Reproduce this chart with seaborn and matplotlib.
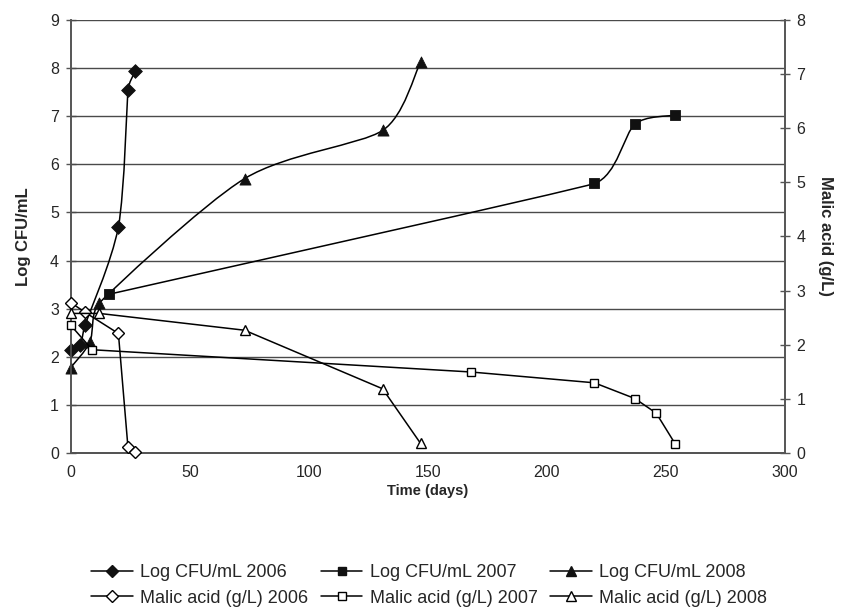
import numpy as np
import matplotlib
matplotlib.use("Agg")
import matplotlib.pyplot as plt
import seaborn as sns
from matplotlib.path import Path
from matplotlib.patches import PathPatch
from matplotlib.lines import Line2D

# values
days_cfu_2006 = [0, 4, 6, 20, 24, 27]
cfu_2006 = [2.15, 2.25, 2.67, 4.70, 7.55, 7.93]
days_cfu_2007 = [16, 220, 237, 254]
cfu_2007 = [3.30, 5.60, 6.83, 7.02]
days_cfu_2008 = [0, 8, 12, 73, 131, 147]
cfu_2008 = [1.78, 2.31, 3.12, 5.70, 6.70, 8.12]

days_mal_2006 = [0, 6, 20, 24, 27]
mal_2006 = [2.78, 2.60, 2.21, 0.12, 0.03]
days_mal_2007 = [0, 9, 168, 220, 237, 246, 254]
mal_2007 = [2.36, 1.91, 1.50, 1.30, 1.01, 0.74, 0.17]
days_mal_2008 = [0, 12, 73, 131, 147]
mal_2008 = [2.58, 2.58, 2.27, 1.19, 0.18]

x_ticks = [0, 50, 100, 150, 200, 250, 300]
left_ticks = list(range(10))
right_ticks = list(range(9))

sns.set_style("white")
plt.rcParams["font.family"] = ["Liberation Sans", "DejaVu Sans"]


def smooth_path(ax, x, y):
    # Excel-like smoothed line: Bezier segments, tangents from neighbours,
    # arms limited so short segments do not overshoot (done in screen space)
    p = ax.transData.transform(np.column_stack([x, y]).astype(float))
    n = len(p)
    arms = []
    for i in range(n):
        a = p[max(i - 1, 0)]
        b = p[min(i + 1, n - 1)]
        arm = (b - a) / 6
        lens = []
        if i > 0:
            lens.append(np.hypot(*(p[i] - p[i - 1])))
        if i < n - 1:
            lens.append(np.hypot(*(p[i + 1] - p[i])))
        la = np.hypot(*arm)
        lim = min(lens) / 3
        if la > lim and la > 0:
            arm = arm * lim / la
        arms.append(arm)
    verts = [p[0]]
    codes = [Path.MOVETO]
    for i in range(n - 1):
        verts += [p[i] + arms[i], p[i + 1] - arms[i + 1], p[i + 1]]
        codes += [Path.CURVE4] * 3
    verts = ax.transData.inverted().transform(np.array(verts))
    return Path(verts, codes)


fig, ax = plt.subplots(figsize=(8.53, 6.15), dpi=100)
fig.subplots_adjust(left=0.083, right=0.920, bottom=0.263, top=0.968)
ax2 = ax.twinx()

ax.set_xlim(0, 300)
ax.set_ylim(0, 9)
ax2.set_ylim(0, 8)

cfu_series = [
    (days_cfu_2006, cfu_2006, "D", "Log CFU/mL 2006"),
    (days_cfu_2007, cfu_2007, "s", "Log CFU/mL 2007"),
    (days_cfu_2008, cfu_2008, "^", "Log CFU/mL 2008"),
]
mal_series = [
    (days_mal_2006, mal_2006, "D", "Malic acid (g/L) 2006"),
    (days_mal_2007, mal_2007, "s", "Malic acid (g/L) 2007"),
    (days_mal_2008, mal_2008, "^", "Malic acid (g/L) 2008"),
]
msize = {"D": 7, "s": 6.5, "^": 8}

for d, v, m, lab in cfu_series:
    ax.add_patch(PathPatch(smooth_path(ax, d, v), facecolor="none",
                           edgecolor="black", lw=1.1, zorder=3))
    sns.scatterplot(x=d, y=v, marker=m, s=msize[m] ** 2,
                    color="#111111", edgecolor="#111111", linewidth=0.6,
                    ax=ax, zorder=4, legend=False, clip_on=False)

for d, v, m, lab in mal_series:
    sns.lineplot(x=d, y=v, ax=ax2, color="black", lw=1.1, marker=m,
                 markersize=msize[m] - 0.5,
                 markerfacecolor="white", markeredgecolor="black",
                 markeredgewidth=1.0, legend=False, zorder=4, clip_on=False)

ax.set_xticks(x_ticks)
ax.set_yticks(left_ticks)
ax2.set_yticks(right_ticks)

ax.grid(False)
ax2.grid(False)
for t in left_ticks[1:]:
    ax.axhline(t, color="#4a4a4a", lw=1.0, zorder=1)

for a in (ax, ax2):
    for s in a.spines.values():
        s.set_color("#555555")
        s.set_linewidth(1.2)
    a.spines["top"].set_visible(False)
ax.spines["bottom"].set_color("#333333")

ax.tick_params(axis="both", direction="inout", length=7, width=1,
               color="#555555", labelsize=11.5, pad=5)
ax2.tick_params(axis="y", direction="inout", length=7, width=1,
                color="#555555", labelsize=11.5, pad=5)

ax.set_xlabel("Time (days)", fontsize=10.5, fontweight="bold", labelpad=3)
ax.set_ylabel("Log CFU/mL", fontsize=12, fontweight="bold", labelpad=14)
ax2.set_ylabel("Malic acid (g/L)", fontsize=12, fontweight="bold",
               rotation=-90, labelpad=20)

handles = []
for (d, v, m, lab), (d2, v2, m2, lab2) in zip(cfu_series, mal_series):
    handles.append(Line2D([], [], color="black", lw=1.1, marker=m,
                          markersize=6.5 if m != "s" else 6,
                          markerfacecolor="#111111", markeredgecolor="#111111",
                          label=lab))
    handles.append(Line2D([], [], color="black", lw=1.1, marker=m2,
                          markersize=6.5 if m2 != "s" else 6,
                          markerfacecolor="white", markeredgecolor="black",
                          label=lab2))

fig.legend(handles=handles, loc="center", bbox_to_anchor=(0.503, 0.048),
           ncol=3, frameon=False, fontsize=13, handlelength=2.3,
           handletextpad=0.4, columnspacing=0.7, labelspacing=0.45)

fig.savefig("out.png", dpi=100)
